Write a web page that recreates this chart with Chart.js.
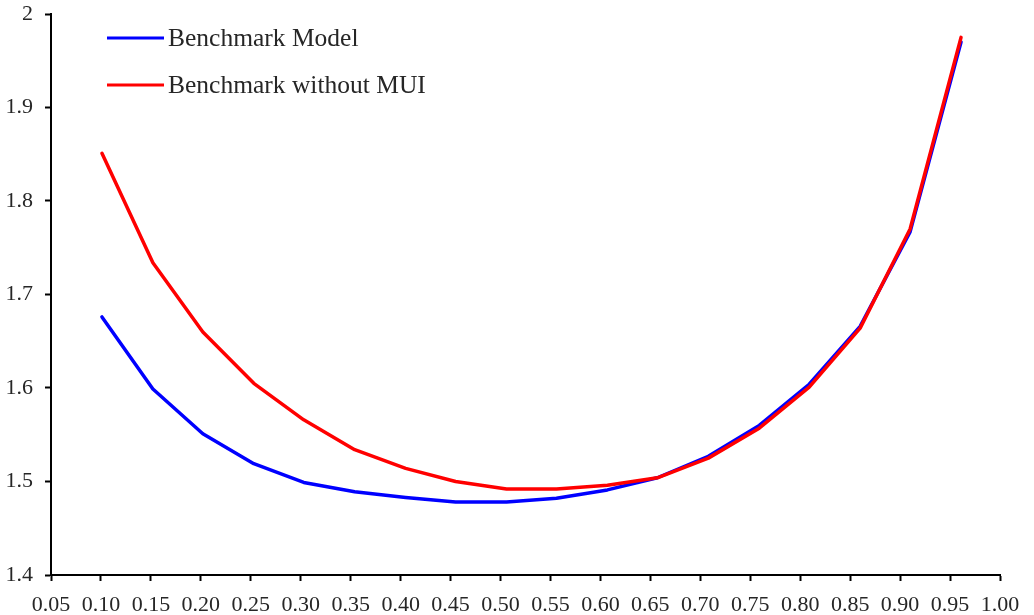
<!DOCTYPE html>
<html>
<head>
<meta charset="utf-8">
<script src="https://cdn.jsdelivr.net/npm/chart.js@4/dist/chart.umd.min.js"></script>
<style>
  html, body { margin: 0; padding: 0; background: #ffffff; }
  #wrap { width: 1034px; height: 615px; }
</style>
</head>
<body>
<div id="wrap"><canvas id="c"></canvas></div>
<script>
// x positions of the points (nominal 0.10 ... 0.95)
const xValues = [0.101, 0.152, 0.202, 0.253, 0.303, 0.354, 0.405, 0.455, 0.506,
                 0.556, 0.607, 0.657, 0.708, 0.759, 0.809, 0.860, 0.910, 0.961]

const benchmarkModel = [1.676, 1.599, 1.551, 1.519, 1.499, 1.489, 1.483, 1.478, 1.478,
                        1.482, 1.491, 1.504, 1.527, 1.560, 1.604, 1.666, 1.767, 1.970]

const withoutMUI = [1.851, 1.734, 1.660, 1.605, 1.566, 1.534, 1.514, 1.500, 1.492,
                    1.492, 1.496, 1.504, 1.525, 1.557, 1.601, 1.664, 1.770, 1.975]

const seriesNames = ['Benchmark Model', 'Benchmark without MUI']

const font = 'Liberation Serif'

const toPoints = (ys) => ys.map((y, i) => ({ x: xValues[i], y: y }))

// legend drawn as two stacked rows in the top-left of the plot
const stackedLegend = {
  id: 'stackedLegend',
  afterDraw(chart) {
    const ctx = chart.ctx
    ctx.save()
    ctx.font = '25.5px "' + font + '"'
    ctx.textBaseline = 'middle'
    ctx.fillStyle = '#262626'
    const rows = [{ idx: 1, y: 38 }, { idx: 0, y: 85 }]
    rows.forEach(r => {
      const ds = chart.data.datasets[r.idx]
      ctx.strokeStyle = ds.borderColor
      ctx.lineWidth = 3
      ctx.beginPath()
      ctx.moveTo(107, r.y)
      ctx.lineTo(164, r.y)
      ctx.stroke()
      ctx.fillText(ds.label, 168, r.y + 1)
    })
    ctx.restore()
  }
}

new Chart(document.getElementById('c'), {
  type: 'line',
  data: {
    datasets: [
      {
        label: seriesNames[1], data: toPoints(withoutMUI),
        borderColor: '#ff0000', borderWidth: 3.5, pointRadius: 0, order: 0,
        borderJoinStyle: 'round', borderCapStyle: 'round'
      },
      {
        label: seriesNames[0], data: toPoints(benchmarkModel),
        borderColor: '#0000ff', borderWidth: 3.5, pointRadius: 0, order: 1,
        borderJoinStyle: 'round', borderCapStyle: 'round'
      }
    ]
  },
  options: {
    responsive: true,
    maintainAspectRatio: false,
    animation: false,
    layout: { padding: { left: 0, right: 34, top: 14, bottom: 0 } },
    plugins: { legend: { display: false }, tooltip: { enabled: false } },
    scales: {
      x: {
        type: 'linear', min: 0.05, max: 1.0,
        afterBuildTicks(scale) {
          const t = []
          for (let i = 0; i <= 19; i++) t.push({ value: 0.05 + i * 0.05 })
          scale.ticks = t
        },
        afterFit(scale) {
          scale.height = 40
          scale.paddingLeft = 0
          scale.paddingRight = 0
        },
        grid: { drawOnChartArea: false, tickLength: 6, tickColor: '#000000', tickWidth: 2 },
        border: { display: true, color: '#000000', width: 2 },
        ticks: {
          color: '#262626', padding: 11, maxRotation: 0, autoSkip: false,
          font: { family: font, size: 22 },
          callback: (v) => Number(v).toFixed(2)
        }
      },
      y: {
        min: 1.4, max: 2.0,
        afterFit(scale) {
          scale.width = 51
          scale.paddingTop = 0
          scale.paddingBottom = 0
        },
        grid: { drawOnChartArea: false, tickLength: 6, tickColor: '#000000', tickWidth: 2 },
        border: { display: true, color: '#000000', width: 2 },
        ticks: {
          color: '#262626', stepSize: 0.1, padding: 12,
          font: { family: font, size: 22 },
          callback: (v) => Number(v.toFixed(1)).toString()
        }
      }
    }
  },
  plugins: [stackedLegend]
})
</script>
</body>
</html>
